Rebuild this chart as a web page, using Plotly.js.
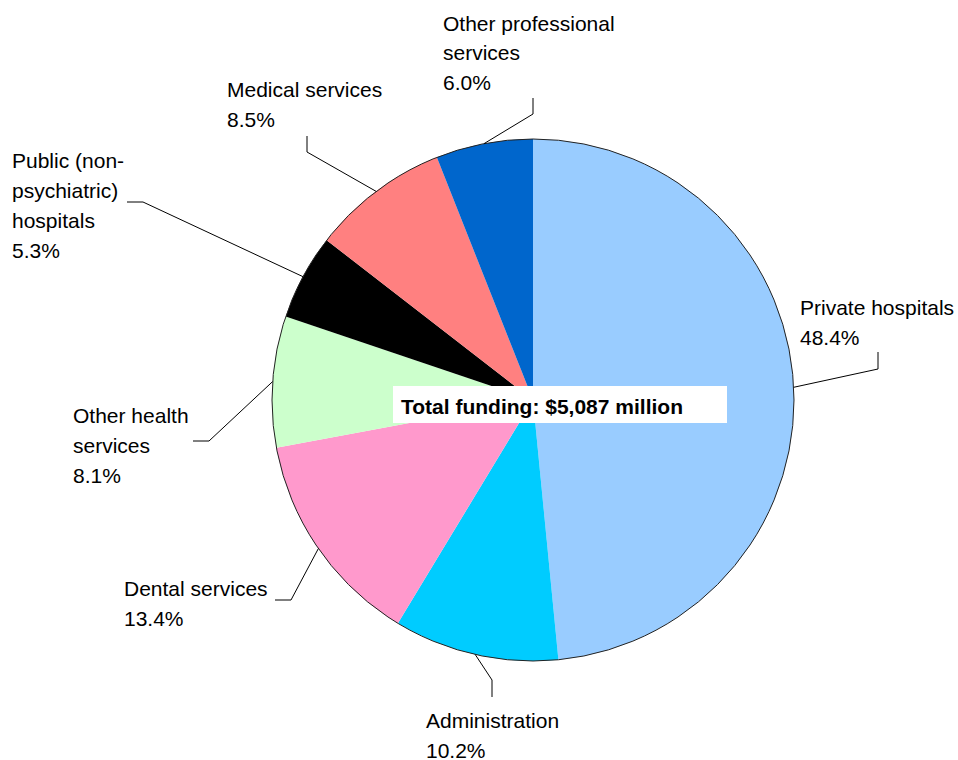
<!DOCTYPE html>
<html>
<head>
<meta charset="utf-8">
<script src="https://cdn.plot.ly/plotly-3.0.1.min.js"></script>
<style>
  html, body { margin: 0; padding: 0; background: #ffffff; }
  #chart { width: 958px; height: 760px; }
</style>
</head>
<body>
<div id="chart"></div>
<script>
// ---- Data ----
const categories = [
  'Private hospitals',
  'Administration',
  'Dental services',
  'Other health services',
  'Public (non-psychiatric) hospitals',
  'Medical services',
  'Other professional services'
];
const shares = [48.4, 10.2, 13.4, 8.1, 5.3, 8.5, 6.0];
const labelLines = [
  ['Private hospitals'],
  ['Administration'],
  ['Dental services'],
  ['Other health', 'services'],
  ['Public (non-', 'psychiatric)', 'hospitals'],
  ['Medical services'],
  ['Other professional', 'services']
];
const sliceColors = ['#99CCFF', '#00CCFF', '#FF99CC', '#CCFFCC', '#000000', '#FF8080', '#0066CC'];
const totalLabel = 'Total funding: $5,087 million';

// ---- Layout constants (pixels) ----
const W = 958, H = 760;
const CX = 533, CY = 400, R = 261;
const FONT = 'Liberation Sans, Arial, sans-serif';
const FS = 21, LINE_GAP = 30;
// label anchor (left x, centre y of first line), leader elbow and end
const labelPos = [[798, 308], [424, 720.5], [122, 588], [71, 415], [10, 160.5], [225, 89.5], [441, 23]];
const elbowPos = [[878, 369], [492, 680], [291, 600], [209, 441], [143, 202], [307, 152], [533, 114]];
const endPos   = [[878, 352], [492, 697], [275, 600], [193, 441], [127, 202], [307, 136], [533, 98]];

const px = x => x / W;
const py = y => 1 - y / H;

const total = shares.reduce((a, b) => a + b, 0);

const trace = {
  type: 'pie',
  labels: categories,
  values: shares,
  sort: false,
  direction: 'clockwise',
  rotation: 0,
  textinfo: 'none',
  hoverinfo: 'none',
  marker: { colors: sliceColors, line: { width: 0 } },
  domain: { x: [px(CX - R), px(CX + R)], y: [py(CY + R), py(CY - R)] },
  showlegend: false
};

const annotations = [];
const shapes = [];

// outer outline of the pie
shapes.push({
  type: 'circle', xref: 'paper', yref: 'paper',
  x0: px(CX - R), x1: px(CX + R), y0: py(CY + R), y1: py(CY - R),
  line: { color: '#222222', width: 1 }
});

let cum = 0;
shares.forEach((v, i) => {
  const ang = (cum + v / 2) / total * 2 * Math.PI;
  cum += v;
  const sx = CX + R * Math.sin(ang);
  const sy = CY - R * Math.cos(ang);
  const [ex, ey] = elbowPos[i];
  const [tx, ty] = endPos[i];
  shapes.push({
    type: 'path', xref: 'paper', yref: 'paper',
    path: `M ${px(sx)} ${py(sy)} L ${px(ex)} ${py(ey)} L ${px(tx)} ${py(ty)}`,
    line: { color: '#000000', width: 1 }
  });
  const lines = labelLines[i].concat([v.toFixed(1) + '%']);
  lines.forEach((t, k) => {
    annotations.push({
      xref: 'paper', yref: 'paper',
      x: px(labelPos[i][0]), y: py(labelPos[i][1] + k * LINE_GAP),
      xanchor: 'left', yanchor: 'middle',
      text: t, showarrow: false,
      font: { family: FONT, size: FS, color: '#000000' }
    });
  });
});

// centre label box
shapes.push({
  type: 'rect', xref: 'paper', yref: 'paper',
  x0: px(393), x1: px(727), y0: py(423), y1: py(386),
  fillcolor: '#ffffff', line: { width: 0 }, layer: 'above'
});
annotations.push({
  xref: 'paper', yref: 'paper',
  x: px(399), y: py(406),
  xanchor: 'left', yanchor: 'middle',
  text: '<b>' + totalLabel + '</b>', showarrow: false,
  font: { family: FONT, size: FS, color: '#000000' }
});

const layout = {
  width: W, height: H,
  margin: { l: 0, r: 0, t: 0, b: 0, pad: 0 },
  paper_bgcolor: '#ffffff',
  plot_bgcolor: '#ffffff',
  showlegend: false,
  shapes: shapes,
  annotations: annotations
};

Plotly.newPlot('chart', [trace], layout, { displayModeBar: false, staticPlot: true });
</script>
</body>
</html>
